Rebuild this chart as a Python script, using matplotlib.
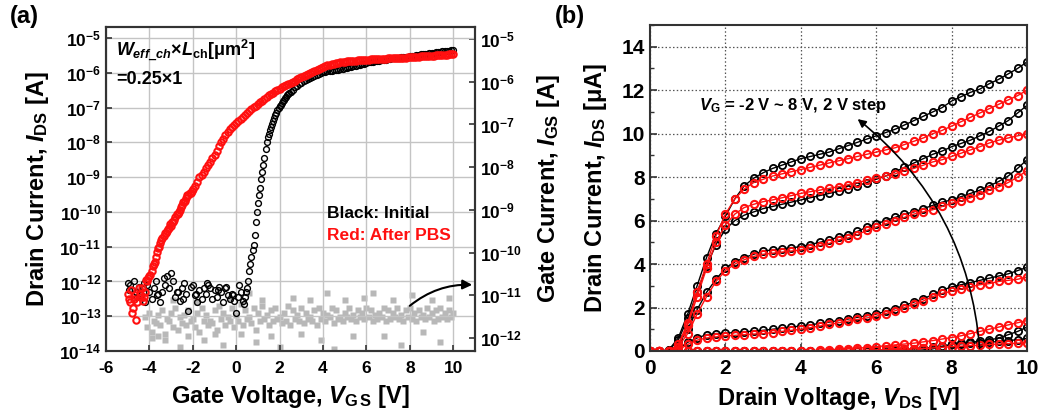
import numpy as np
import matplotlib
matplotlib.use("Agg")
import matplotlib.pyplot as plt
from matplotlib.ticker import NullLocator, MultipleLocator

plt.rcParams["font.family"] = ["Liberation Sans", "DejaVu Sans"]
plt.rcParams["font.weight"] = "bold"
plt.rcParams["axes.labelweight"] = "bold"
plt.rcParams["axes.unicode_minus"] = False
plt.rcParams["mathtext.fontset"] = "custom"
plt.rcParams["mathtext.rm"] = "Liberation Sans:bold"
plt.rcParams["mathtext.it"] = "Liberation Sans:italic:bold"
plt.rcParams["mathtext.bf"] = "Liberation Sans:bold"

# ---- (a) transfer curves, log10(I_DS) at V_GS = -5.0 ... 10.0 (0.1 V step)
vgs = np.round(np.arange(-5.0, 10.05, 0.1), 2)
black_log = [
    -12.05, -12.1, -12.25, -12.0, -12.3, -12.15, -12.4, -12.2, -12.6, -12.1,
    -12.3, -12.5, -12.2, -12.0, -12.35, -12.6, -12.3, -12.1, -11.85, -12.2,
    -11.75, -12.0, -12.45, -12.3, -12.55, -12.2, -12.05, -12.35, -12.85, -12.15,
    -12.1, -12.4, -12.6, -12.25, -12.5, -12.2, -12.35, -12.1, -12.2, -12.5,
    -12.25, -12.45, -12.15, -12.3, -12.6, -12.2, -12.4, -12.5, -12.35, -12.55,
    -12.9, -12.45, -12.3, -12.55, -12.45, -12.2, -11.7, -11.3, -10.95, -10.3,
    -9.75, -9.3, -8.85, -8.45, -8.0, -7.75, -7.55, -7.38, -7.22, -7.08,
    -6.96, -6.86, -6.77, -6.69, -6.61, -6.54, -6.48, -6.42, -6.37, -6.32,
    -6.28, -6.24, -6.2, -6.17, -6.14, -6.11, -6.08, -6.06, -6.03, -6.01,
    -5.98, -5.97, -5.96, -5.95, -5.94, -5.93, -5.92, -5.91, -5.89, -5.88,
    -5.86, -5.85, -5.83, -5.82, -5.8, -5.79, -5.77, -5.76, -5.74, -5.73,
    -5.71, -5.7, -5.69, -5.68, -5.67, -5.66, -5.65, -5.64, -5.63, -5.62,
    -5.6, -5.59, -5.58, -5.58, -5.57, -5.56, -5.55, -5.55, -5.54, -5.53,
    -5.52, -5.51, -5.5, -5.49, -5.48, -5.47, -5.47, -5.46, -5.45, -5.44,
    -5.43, -5.42, -5.41, -5.4, -5.39, -5.38, -5.37, -5.37, -5.36, -5.35,
    -5.34,
]
# extra black points in the off region and the steep turn-on region
black_fine_v = [-4.95, -4.55, -4.25, -3.65, -3.35, -2.75, -2.45, -1.85, -1.35, -0.85,
                -0.45, -0.15, 0.15, 0.35, 0.45, 0.55, 0.65, 0.75, 0.85, 0.95, 1.05,
                1.15, 1.25, 1.35, 1.45, 1.55, 1.65, 1.75, 1.85, 1.95, 2.05, 2.15,
                2.25, 2.35, 2.45]
black_fine_log = [-12.25, -12.45, -12.05, -12.4, -11.9, -12.3, -12.5, -12.35, -12.05,
                  -12.25, -12.15, -12.4, -12.1, -12.65, -12.3, -12.0, -11.5, -11.1,
                  -10.65, -10.0, -9.5, -9.05, -8.65, -8.2, -7.85, -7.65, -7.46, -7.3,
                  -7.15, -7.02, -6.91, -6.81, -6.73, -6.65, -6.57]
red_log = [
    -12.35, -12.6, -12.9, -12.5, -13.1, -12.2, -12.45, -12.55, -12.3, -12.0,
    -11.85, -11.7, -11.5, -11.3, -11.05, -10.9, -10.75, -10.6, -10.55, -10.45,
    -10.4, -10.3, -10.15, -10.05, -9.95, -9.8, -9.7, -9.6, -9.5, -9.45,
    -9.35, -9.25, -9.15, -9.0, -8.95, -8.85, -8.75, -8.65, -8.55, -8.45,
    -8.35, -8.25, -8.1, -8.0, -7.9, -7.8, -7.7, -7.62, -7.55, -7.5,
    -7.45, -7.39, -7.33, -7.27, -7.21, -7.15, -7.09, -7.03, -6.98, -6.94,
    -6.9, -6.85, -6.8, -6.75, -6.7, -6.65, -6.61, -6.57, -6.53, -6.49,
    -6.45, -6.42, -6.39, -6.36, -6.33, -6.3, -6.26, -6.22, -6.19, -6.15,
    -6.12, -6.09, -6.06, -6.03, -6.0, -5.97, -5.94, -5.91, -5.88, -5.85,
    -5.82, -5.8, -5.78, -5.76, -5.74, -5.73, -5.72, -5.71, -5.7, -5.69,
    -5.68, -5.67, -5.66, -5.66, -5.65, -5.65, -5.64, -5.64, -5.63, -5.63,
    -5.62, -5.62, -5.61, -5.61, -5.6, -5.6, -5.6, -5.59, -5.59, -5.59,
    -5.58, -5.58, -5.58, -5.57, -5.57, -5.57, -5.56, -5.56, -5.56, -5.55,
    -5.55, -5.54, -5.54, -5.53, -5.53, -5.52, -5.52, -5.51, -5.51, -5.5,
    -5.5, -5.5, -5.49, -5.49, -5.49, -5.48, -5.48, -5.48, -5.47, -5.47,
    -5.47,
]
# extra red points (noisy off region and sub-threshold band)
red_fine_v = [-4.95, -4.85, -4.75, -4.65, -4.55, -4.45, -4.35, -4.25, -4.15, -4.05,
              -3.95, -3.85, -3.75, -3.65, -3.55, -3.45, -3.35, -3.25, -3.15, -3.05,
              -2.95, -2.85, -2.75, -2.65, -2.55, -2.45, -2.35, -2.25, -2.15, -2.05]
red_fine_log = [-12.5, -12.25, -12.75, -12.4, -12.6, -12.35, -12.2, -12.45, -11.95, -11.9,
                -11.8, -11.55, -11.45, -11.15, -11.0, -10.8, -10.7, -10.62, -10.5, -10.35,
                -10.3, -10.22, -10.05, -10.0, -9.85, -9.7, -9.68, -9.5, -9.45, -9.4]

# gate current (right axis), log10(I_GS)
gray_v1 = np.round(np.arange(-4.2, 10.05, 0.2), 2)
gray_log1 = [
    -11.5, -11.4, -11.6, -11.45, -11.35, -11.55, -11.4, -11.3, -11.5, -11.45,
    -11.35, -11.55, -11.4, -11.3, -11.45, -11.6, -11.35, -11.25, -11.4, -11.5,
    -11.3, -11.45, -11.2, -11.35, -11.5, -11.3, -11.4, -11.25, -11.45, -11.35,
    -11.3, -11.5, -11.4, -11.25, -11.35, -11.45, -11.3, -11.4, -11.5, -11.35,
    -11.3, -11.4, -11.45, -11.3, -11.35, -11.5, -11.4, -11.3, -11.45, -11.35,
    -11.4, -11.3, -11.35, -11.45, -11.4, -11.3, -11.35, -11.4, -11.3, -11.45,
    -11.35, -11.3, -11.4, -11.35, -11.45, -11.3, -11.4, -11.35, -11.3, -11.4,
    -11.35, -11.4,
]
gray_v2 = np.round(np.arange(-4.1, 9.95, 0.2), 2)
gray_log2 = [
    -11.75, -11.85, -11.65, -11.7, -11.9, -11.6, -11.75, -11.8, -11.65, -11.7,
    -11.6, -11.75, -11.85, -11.6, -11.7, -11.65, -11.8, -11.55, -11.7, -11.6,
    -11.75, -11.6, -11.7, -11.55, -11.65, -11.8, -11.6, -11.55, -11.7, -11.6,
    -11.55, -11.65, -11.6, -11.7, -11.55, -11.6, -11.65, -11.55, -11.6, -11.7,
    -11.55, -11.6, -11.5, -11.65, -11.55, -11.6, -11.5, -11.55, -11.6, -11.5,
    -11.55, -11.5, -11.6, -11.55, -11.5, -11.6, -11.55, -11.5, -11.55, -11.6,
    -11.5, -11.55, -11.6, -11.5, -11.55, -11.5, -11.6, -11.55, -11.5, -11.55,
    -11.5,
]
gray_out_v = [-3.9, -3.6, -3.3, -2.9, -2.6, -2.2, -1.8, -1.5, -1.0, -0.6, -0.3, 0.2,
              0.6, 0.9, 1.2, 1.6, 2.0, 2.6, 3.0, 3.4, 3.9, 4.2, 4.5, 5.0, 5.4, 5.9,
              6.3, 6.8, 7.2, 7.6, 8.1, 8.6, 9.0, 9.4, 9.8]
gray_out_log = [-12.0, -11.95, -12.05, -11.1, -12.2, -11.95, -11.15, -12.05, -11.9,
                -12.15, -11.05, -11.9, -10.95, -12.1, -11.1, -11.95, -12.2, -11.05,
                -11.9, -11.1, -12.05, -10.95, -12.25, -11.1, -11.95, -11.05, -10.95,
                -11.95, -11.1, -12.15, -11.0, -11.85, -11.1, -12.1, -11.05]

# ---- (b) output curves, I_DS [uA] at V_DS = 0 ... 10 (0.25 V step)
vds = np.arange(0, 10.01, 0.25)
vg_list = [-2, 0, 2, 4, 6, 8]
ids_black = {
    8: [0, 0, 0.05, 0.6, 1.7, 3.0, 4.3, 5.4, 6.2, 7.0, 7.6, 7.95, 8.2, 8.4, 8.55, 8.7,
        8.85, 8.95, 9.05, 9.15, 9.3, 9.45, 9.6, 9.75, 9.9, 10.05, 10.2, 10.4, 10.6,
        10.8, 11.0, 11.2, 11.5, 11.7, 11.9, 12.05, 12.3, 12.5, 12.75, 13.0, 13.3],
    6: [0, 0, 0.05, 0.5, 1.5, 2.7, 3.9, 4.9, 5.6, 6.0, 6.25, 6.4, 6.55, 6.65, 6.75,
        6.85, 6.95, 7.05, 7.15, 7.25, 7.35, 7.45, 7.6, 7.75, 7.9, 8.05, 8.25, 8.45,
        8.65, 8.85, 9.05, 9.2, 9.4, 9.55, 9.7, 9.9, 10.1, 10.35, 10.6, 10.95, 11.3],
    4: [0, 0, 0, 0.3, 1.0, 1.9, 2.7, 3.3, 3.8, 4.1, 4.3, 4.45, 4.6, 4.65, 4.7, 4.75,
        4.8, 4.9, 5.0, 5.1, 5.25, 5.35, 5.5, 5.7, 5.85, 6.0, 6.15, 6.3, 6.4, 6.55,
        6.7, 6.85, 6.95, 7.1, 7.25, 7.4, 7.6, 7.8, 8.05, 8.4, 8.8],
    2: [0, 0, 0, 0.1, 0.4, 0.6, 0.75, 0.8, 0.82, 0.85, 0.88, 0.92, 0.95, 1.0, 1.05,
        1.1, 1.15, 1.2, 1.27, 1.33, 1.4, 1.47, 1.55, 1.62, 1.7, 1.82, 1.95, 2.1,
        2.25, 2.4, 2.6, 2.8, 2.95, 3.05, 3.15, 3.25, 3.35, 3.45, 3.55, 3.7, 3.85],
    0: [0, 0, 0, 0, 0, 0, 0, 0, 0, 0, 0, 0, 0, 0, 0, 0, 0, 0, 0, 0, 0, 0, 0, 0.01,
        0.02, 0.03, 0.05, 0.07, 0.1, 0.13, 0.17, 0.22, 0.3, 0.35, 0.4, 0.45, 0.5,
        0.6, 0.75, 0.9, 1.1],
    -2: [0, 0, 0, 0, 0, 0, 0, 0, 0, 0, 0, 0, 0, 0, 0, 0, 0, 0, 0, 0, 0, 0, 0, 0, 0,
         0, 0, 0, 0, 0.05, 0.1, 0.2, 0.3, 0.33, 0.36, 0.38, 0.4, 0.44, 0.48, 0.52,
         0.58],
}
ids_red = {
    8: [0, 0, 0, 0.3, 1.3, 2.7, 4.0, 5.3, 6.3, 7.0, 7.45, 7.75, 7.9, 8.05, 8.15, 8.25,
        8.35, 8.45, 8.55, 8.65, 8.75, 8.85, 8.95, 9.05, 9.15, 9.25, 9.35, 9.5, 9.65,
        9.8, 10.0, 10.15, 10.35, 10.55, 10.75, 10.95, 11.15, 11.35, 11.55, 11.75, 12.0],
    6: [0, 0, 0, 0.2, 1.2, 2.5, 3.8, 5.0, 5.8, 6.3, 6.6, 6.75, 6.87, 6.95, 7.05, 7.15,
        7.25, 7.33, 7.4, 7.48, 7.56, 7.65, 7.75, 7.85, 7.95, 8.05, 8.15, 8.3, 8.4,
        8.55, 8.7, 8.8, 8.95, 9.1, 9.25, 9.4, 9.57, 9.7, 9.8, 9.9, 10.0],
    4: [0, 0, 0, 0.2, 0.8, 1.7, 2.5, 3.2, 3.7, 4.0, 4.2, 4.35, 4.45, 4.5, 4.55, 4.6,
        4.65, 4.75, 4.85, 4.95, 5.1, 5.2, 5.35, 5.55, 5.7, 5.85, 6.0, 6.15, 6.3, 6.4,
        6.5, 6.65, 6.8, 6.9, 7.05, 7.2, 7.4, 7.55, 7.75, 8.0, 8.3],
    2: [0, 0, 0, 0.05, 0.3, 0.5, 0.6, 0.65, 0.7, 0.72, 0.75, 0.78, 0.8, 0.85, 0.9,
        0.95, 1.0, 1.07, 1.15, 1.22, 1.3, 1.37, 1.45, 1.52, 1.6, 1.72, 1.85, 2.0,
        2.15, 2.3, 2.5, 2.65, 2.75, 2.85, 2.95, 3.05, 3.1, 3.2, 3.25, 3.3, 3.4],
    0: [0, 0, 0, 0, 0, 0, 0, 0, 0, 0, 0, 0, 0, 0, 0, 0, 0, 0.02, 0.04, 0.06, 0.08,
        0.1, 0.13, 0.16, 0.2, 0.24, 0.28, 0.32, 0.36, 0.42, 0.48, 0.55, 0.62, 0.7,
        0.8, 0.9, 1.0, 1.1, 1.2, 1.3, 1.4],
    -2: [0, 0, 0, 0, 0, 0, 0, 0, 0, 0, 0, 0, 0, 0, 0, 0, 0, 0, 0, 0, 0, 0.02, 0.03,
         0.04, 0.05, 0.06, 0.07, 0.08, 0.1, 0.12, 0.14, 0.17, 0.2, 0.22, 0.25, 0.27,
         0.3, 0.32, 0.34, 0.36, 0.38],
}

RED = "#ff1010"
GRAY = "#b8b8b8"
SPINE = "#333333"


def log_labels(exps):
    return [r"$\mathbf{10^{%d}}$" % e for e in exps]


fig = plt.figure(figsize=(10.43, 4.18), dpi=100)

# ======================= panel (a) =======================
ax = fig.add_axes([106 / 1043, 67 / 418, 369 / 1043, 324 / 418])
ax.set_yscale("log")
ax.set_xlim(-6, 11)
ax.set_ylim(1e-14, 10 ** -4.68)
ax.grid(True, color="#c4c4c4", lw=1.0)
ax.set_axisbelow(True)

ax2 = ax.twinx()
ax2.set_yscale("log")
ax2.set_ylim(10 ** -12.30, 10 ** -4.72)
gkw = dict(ls="none", marker="s", ms=4.4, color=GRAY, mec="none")
ax2.plot(gray_v1, 10 ** np.array(gray_log1), **gkw)
ax2.plot(gray_v2, 10 ** np.array(gray_log2), **gkw)
ax2.plot(gray_out_v, 10 ** np.array(gray_out_log), **gkw)
ax2.set_zorder(0)
ax.set_zorder(1)
ax.patch.set_visible(False)

bkw = dict(ls="none", marker="o", ms=4.2, mfc="none", mec="black", mew=1.0)
rkw = dict(ls="none", marker="o", ms=4.6, mfc="none", mec=RED, mew=1.5)
ax.plot(vgs, 10 ** np.array(black_log), **bkw)
ax.plot(black_fine_v, 10 ** np.array(black_fine_log), **bkw)
ax.plot(vgs, 10 ** np.array(red_log), **rkw)
ax.plot(red_fine_v, 10 ** np.array(red_fine_log), **rkw)

ax.set_xticks(range(-6, 11, 2), [str(v) for v in range(-6, 11, 2)], fontweight="bold")
left_exp = list(range(-14, -4))
ax.set_yticks([10.0 ** e for e in left_exp], log_labels(left_exp))
ax.yaxis.set_minor_locator(NullLocator())
right_exp = list(range(-12, -4))
ax2.set_yticks([10.0 ** e for e in right_exp], log_labels(right_exp))
ax2.yaxis.set_minor_locator(NullLocator())
ax.tick_params(axis="both", direction="in", labelsize=12.5, length=4, width=1.2,
               colors=SPINE, labelcolor="black")
ax.tick_params(axis="x", pad=7)
ax2.tick_params(axis="y", direction="in", labelsize=12.5, length=4, width=1.2,
                colors=SPINE, labelcolor="black")
for a in (ax, ax2):
    for s in a.spines.values():
        s.set_linewidth(1.5)
        s.set_color(SPINE)

ax.set_xlabel(r"Gate Voltage, $V_{\rm G\,S}$ [V]", fontsize=17, labelpad=5)
ax.set_ylabel(r"Drain Current, $I_{\rm DS}$ [A]", fontsize=17, labelpad=6)
ax2.set_ylabel(r"Gate Current, $I_{\rm GS}$ [A]", fontsize=17, labelpad=10)

ax.text(-5.55, 10 ** -5.38, r"$W_{eff\_ch}$×$L_{\rm ch}$[μm$^{\rm 2}$]", fontsize=13, va="center")
ax.text(-5.55, 10 ** -6.2, "=0.25×1", fontsize=13, va="center")
ax.text(4.2, 10 ** -10.05, "Black: Initial", fontsize=12.5, va="center", color="black")
ax.text(4.2, 10 ** -10.68, "Red: After PBS", fontsize=12.5, va="center", color=RED)
ax.annotate("", xy=(11.0, 10 ** -12.1), xytext=(7.9, 10 ** -12.75),
            arrowprops=dict(arrowstyle="-|>", color="black", lw=1.5,
                            connectionstyle="arc3,rad=-0.2", mutation_scale=14),
            annotation_clip=False)
fig.text(10 / 1043, 1 - 17 / 418, "(a)", fontsize=17, va="center", ha="left")

# ======================= panel (b) =======================
bx = fig.add_axes([650 / 1043, 67 / 418, 377 / 1043, 326 / 418])
bx.set_xlim(0, 10)
bx.set_ylim(0, 15)
bx.grid(True, color="#555555", lw=0.9, ls=(0, (1.2, 1.8)))
bx.set_axisbelow(True)
for vg in vg_list:
    bx.plot(vds, ids_black[vg], "-o", lw=1.0, ms=5.2, mfc="none", color="black", mew=1.3)
for vg in vg_list:
    bx.plot(vds, ids_red[vg], "-o", lw=1.0, ms=5.2, mfc="none", color=RED, mew=1.5)

bx.set_xticks(range(0, 11, 2), [str(v) for v in range(0, 11, 2)], fontweight="bold")
bx.set_yticks(range(0, 15, 2), [str(v) for v in range(0, 15, 2)], fontweight="bold")
bx.xaxis.set_minor_locator(MultipleLocator(1))
bx.yaxis.set_minor_locator(MultipleLocator(1))
bx.tick_params(axis="both", which="both", direction="in", labelsize=15, colors=SPINE,
               labelcolor="black")
bx.tick_params(which="major", length=5, width=1.2)
bx.tick_params(which="minor", length=3, width=1.0)
bx.tick_params(axis="x", pad=6)
for s in bx.spines.values():
    s.set_linewidth(1.5)
    s.set_color(SPINE)
bx.set_xlabel(r"Drain Voltage, $V_{\rm DS}$ [V]", fontsize=17, labelpad=5)
bx.set_ylabel(r"Drain Current, $I_{\rm DS}$ [μA]", fontsize=17, labelpad=9)

bx.text(1.3, 11.3, r"$V_{\rm G}$ = -2 V ~ 8 V, 2 V step", fontsize=12, va="center")
bx.annotate("", xy=(5.45, 10.75), xytext=(8.75, 0.0),
            arrowprops=dict(arrowstyle="-|>", color="black", lw=1.2,
                            connectionstyle="arc3,rad=0.22", mutation_scale=12))
fig.text(555 / 1043, 1 - 17 / 418, "(b)", fontsize=17, va="center", ha="left")

fig.savefig("out.png", dpi=100)
